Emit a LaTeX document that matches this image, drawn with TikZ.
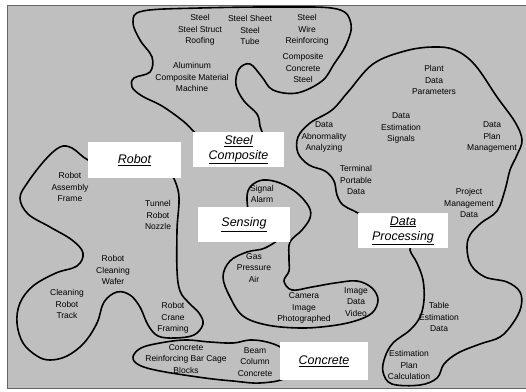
\documentclass[tikz,border=0pt]{standalone}
\usepackage{fontspec}
\setmainfont{Liberation Sans}

\begin{document}
\begin{tikzpicture}[
  x=1pt, y=-1pt,
  % region outline
  blob/.style={draw=black, line width=1.6pt},
  % small item text inside a region
  item/.style={
    font=\fontsize{8.5}{11.5}\selectfont,
    align=center,
    inner sep=0pt,
    text=black
  },
  % white category label
  catbox/.style={
    rectangle,
    fill=white,
    minimum width=91pt,
    minimum height=35pt,
    inner sep=0pt,
    align=center,
    font=\fontsize{12.5}{15}\selectfont\itshape
  }
]
\useasboundingbox (0,0) rectangle (526,391);

% === BACKGROUND ===
\fill[black!25, draw=black!60, line width=0.5pt] (7,5) rectangle (526,388);

% === REGIONS ===
% steel
\draw[blob] plot[smooth cycle, tension=0.6] coordinates {
  (240,150) (205,140) (183,121) (162,106) (142,96) (132,87) (134,78)
  (150,72) (152,57) (140,40) (133,22) (143,11) (200,8) (280,7)
  (337,9) (351,24) (346,45) (334,64) (322,81) (297,93) (273,90)
  (262,77) (250,64) (239,69) (236,85) (244,101) (257,114) (260,126)
  (262,140)};
% robot
\draw[blob] plot[smooth cycle, tension=0.6] coordinates {
  (88,160) (72,148) (60,147) (45,160) (28,182) (20,198) (28,214)
  (50,227) (72,240) (83,253) (77,266) (56,273) (33,286) (20,303)
  (17,323) (23,343) (37,356) (50,360) (67,356) (84,343) (97,323)
  (104,302) (117,292) (130,295) (140,307) (148,325) (158,336) (175,338)
  (194,335) (203,324) (199,313) (189,303) (180,291) (177,270) (177,230)
  (178,190) (160,166) (110,166)};
% sensing
\draw[blob] plot[smooth cycle, tension=0.6] coordinates {
  (250,215) (247,197) (251,186) (263,180) (280,183) (297,193) (309,207)
  (310,218) (302,230) (290,242) (289,258) (289,271) (284,281) (292,290)
  (312,287) (335,283) (357,281) (372,288) (378,300) (372,313) (355,321)
  (330,326) (300,328) (267,325) (243,316) (230,297) (223,277) (230,261)
  (247,252) (265,248) (280,236) (262,225)};
% data
\draw[blob] plot[smooth cycle, tension=0.6] coordinates {
  (390,230) (356,212) (343,205) (337,195) (334,181) (325,171) (309,165)
  (298,153) (298,137) (310,123) (332,110) (348,92) (373,64) (405,51)
  (433,47) (455,50) (475,65) (497,97) (515,122) (522,140) (517,155)
  (510,170) (505,190) (497,211) (481,223) (470,235) (467,248) (471,265)
  (485,277) (507,282) (520,292) (521,307) (513,323) (500,337) (480,344)
  (458,353) (444,364) (437,378) (420,385) (392,384) (383,372) (385,357)
  (393,343) (410,330) (420,317) (424,300) (423,280) (417,263) (410,250)
  (412,238)};
% concrete
\draw[blob] plot[smooth cycle, tension=0.6] coordinates {
  (282,348) (267,342) (250,340) (233,343) (210,342) (185,340) (160,343)
  (141,348) (133,357) (139,365) (160,371) (205,378) (233,381) (260,383)
  (286,378) (300,362)};

% === CATEGORY LABELS ===
\node[catbox, minimum width=93pt, minimum height=36pt] (robot) at (134.5,160) {\underline{Robot}};
\node[catbox] (steelcomp) at (238.5,149.5) {\underline{Steel}\\\underline{Composite}};
\node[catbox, minimum width=92pt] (sensing) at (244,224.5) {\underline{Sensing}};
\node[catbox, minimum width=90pt] (dataproc) at (403,230.5) {\underline{Data}\\\underline{Processing}};
\node[catbox, minimum width=88pt, minimum height=38pt] (concrete) at (324,361) {\underline{Concrete}};

% === ITEMS: STEEL ===
\node[item] (struct) at (200,30) {Steel\\Steel Struct\\Roofing};
\node[item] (sheet) at (250,30) {Steel Sheet\\Steel\\Tube};
\node[item] (wire) at (307,30) {Steel\\Wire\\Reinforcing};
\node[item] (ccs) at (303,68) {Composite\\Concrete\\Steel};
\node[item] (alum) at (192,77) {Aluminum\\Composite Material\\Machine};

% === ITEMS: ROBOT ===
\node[item] (assembly) at (70,187) {Robot\\Assembly\\Frame};
\node[item] (tunnel) at (158,215) {Tunnel\\Robot\\Nozzle};
\node[item] (wafer) at (113,270) {Robot\\Cleaning\\Wafer};
\node[item] (track) at (67,304) {Cleaning\\Robot\\Track};
\node[item] (crane) at (173,318) {Robot\\Crane\\Framing};

% === ITEMS: SENSING ===
\node[item] (alarm) at (262,194) {Signal\\Alarm};
\node[item] (gas) at (254,268) {Gas\\Pressure\\Air};
\node[item] (camera) at (304,308) {Camera\\Image\\Photographed};
\node[item] (video) at (356,302) {Image\\Data\\Video};

% === ITEMS: DATA ===
\node[item] (abnorm) at (324,137) {Data\\Abnormality\\Analyzing};
\node[item] (signals) at (401,128) {Data\\Estimation\\Signals};
\node[item] (plant) at (434,80) {Plant\\Data\\Parameters};
\node[item] (planmgmt) at (492,137) {Data\\Plan\\Management};
\node[item] (terminal) at (356,180) {Terminal\\Portable\\Data};
\node[item] (project) at (469,203) {Project\\Management\\Data};
\node[item] (table) at (439,317) {Table\\Estimation\\Data};
\node[item] (calc) at (409,365) {Estimation\\Plan\\Calculation};

% === ITEMS: CONCRETE ===
\node[item] (cage) at (186,359) {Concrete\\Reinforcing Bar Cage\\Blocks};
\node[item] (beam) at (255,362) {Beam\\Column\\Concrete};

\end{tikzpicture}
\end{document}
